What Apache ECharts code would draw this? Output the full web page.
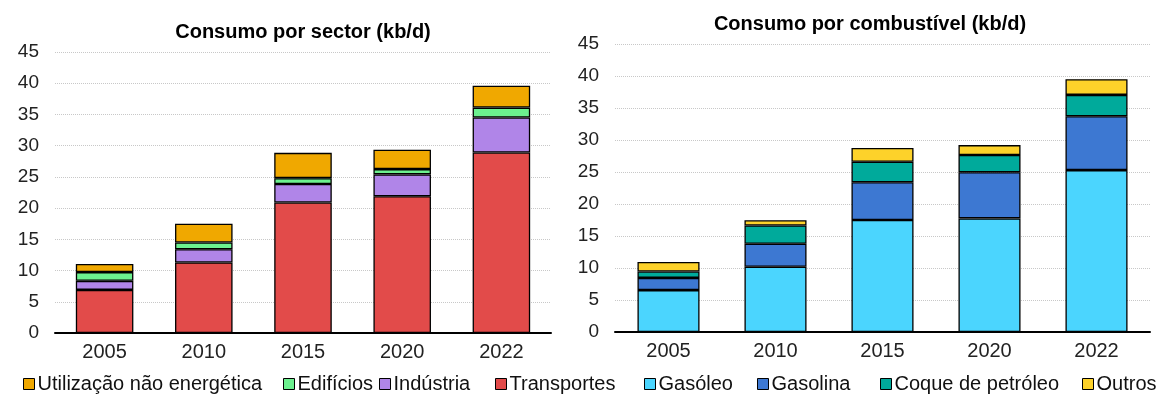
<!DOCTYPE html>
<html>
<head>
<meta charset="utf-8">
<script src="https://cdn.jsdelivr.net/npm/echarts@6/dist/echarts.min.js"></script>
<style>
  html,body{margin:0;padding:0;background:#fff;}
  #chart{width:1159px;height:394px;}
</style>
</head>
<body>
<div id="chart"></div>
<script>
  const years = ['2005', '2010', '2015', '2020', '2022'];

  // consumo por sector (kb/d)
  const transportes = [6.9, 11.3, 20.9, 21.9, 28.9];
  const industria = [1.45, 2.1, 2.95, 3.5, 5.6];
  const edificios = [1.4, 1.1, 0.95, 0.85, 1.6];
  const naoEnergetica = [1.3, 3.0, 4.05, 3.1, 3.5];

  // consumo por combustível (kb/d)
  const gasoleo = [6.55, 10.2, 17.5, 17.75, 25.3];
  const gasolina = [1.9, 3.6, 5.9, 7.2, 8.4];
  const coque = [1.0, 2.85, 3.2, 2.7, 3.35];
  const outros = [1.5, 0.8, 2.15, 1.55, 2.45];

  const legendNames = ['Utilização não energética', 'Edifícios', 'Indústria', 'Transportes',
    'Gasóleo', 'Gasolina', 'Coque de petróleo', 'Outros'];
  const legendLeft = [23, 283, 379, 495, 644, 757, 880, 1082];

  const font = 'Liberation Sans, Arial, sans-serif';

  const bar = (name, data, color, idx, stack) => ({
    name: name,
    type: 'bar',
    stack: stack,
    xAxisIndex: idx,
    yAxisIndex: idx,
    data: data,
    barWidth: '58%',
    itemStyle: { color: color, borderColor: '#000', borderWidth: 1.3 }
  });

  const xAxis = (idx) => ({
    type: 'category',
    gridIndex: idx,
    data: years,
    axisLine: { lineStyle: { color: '#000', width: 2 } },
    axisTick: { show: false },
    axisLabel: { color: '#222', fontSize: 20, fontFamily: font, margin: 9 }
  });

  const yAxis = (idx) => ({
    type: 'value',
    gridIndex: idx,
    min: 0,
    max: 45,
    interval: 5,
    axisLine: { show: false },
    axisTick: { show: false },
    axisLabel: { color: '#222', fontSize: 19, fontFamily: font, margin: 16 },
    splitLine: { lineStyle: { color: '#c8c8c8', type: 'dotted', width: 1 } }
  });

  // one legend per item, so each sits where the reference puts it
  const legends = legendNames.map((name, i) => ({
    left: legendLeft[i],
    top: 374,
    padding: 0,
    itemWidth: 11,
    itemHeight: 11,
    icon: 'rect',
    data: [name],
    itemStyle: { borderColor: '#000', borderWidth: 1 },
    textStyle: { fontSize: 20, fontFamily: font, color: '#111', padding: [0, 0, 0, -2] }
  }));

  const chart = echarts.init(document.getElementById('chart'));
  chart.setOption({
    animation: false,
    title: [
      {
        text: 'Consumo por sector (kb/d)',
        left: 298, top: 17, textAlign: 'center',
        textStyle: { fontSize: 20, fontWeight: 'bold', fontFamily: font, color: '#000' }
      },
      {
        text: 'Consumo por combustível (kb/d)',
        left: 865, top: 9, textAlign: 'center',
        textStyle: { fontSize: 20, fontWeight: 'bold', fontFamily: font, color: '#000' }
      }
    ],
    legend: legends,
    grid: [
      { left: 55, right: 608, top: 52, bottom: 61 },
      { left: 615, right: 9, top: 44, bottom: 62 }
    ],
    xAxis: [xAxis(0), xAxis(1)],
    yAxis: [yAxis(0), yAxis(1)],
    series: [
      bar('Transportes', transportes, '#e24b4a', 0, 'sector'),
      bar('Indústria', industria, '#b085e8', 0, 'sector'),
      bar('Edifícios', edificios, '#6cf18f', 0, 'sector'),
      bar('Utilização não energética', naoEnergetica, '#f0a800', 0, 'sector'),
      bar('Gasóleo', gasoleo, '#4bd5fe', 1, 'fuel'),
      bar('Gasolina', gasolina, '#3d78d2', 1, 'fuel'),
      bar('Coque de petróleo', coque, '#00aa9b', 1, 'fuel'),
      bar('Outros', outros, '#fdd22a', 1, 'fuel')
    ]
  });
</script>
</body>
</html>
